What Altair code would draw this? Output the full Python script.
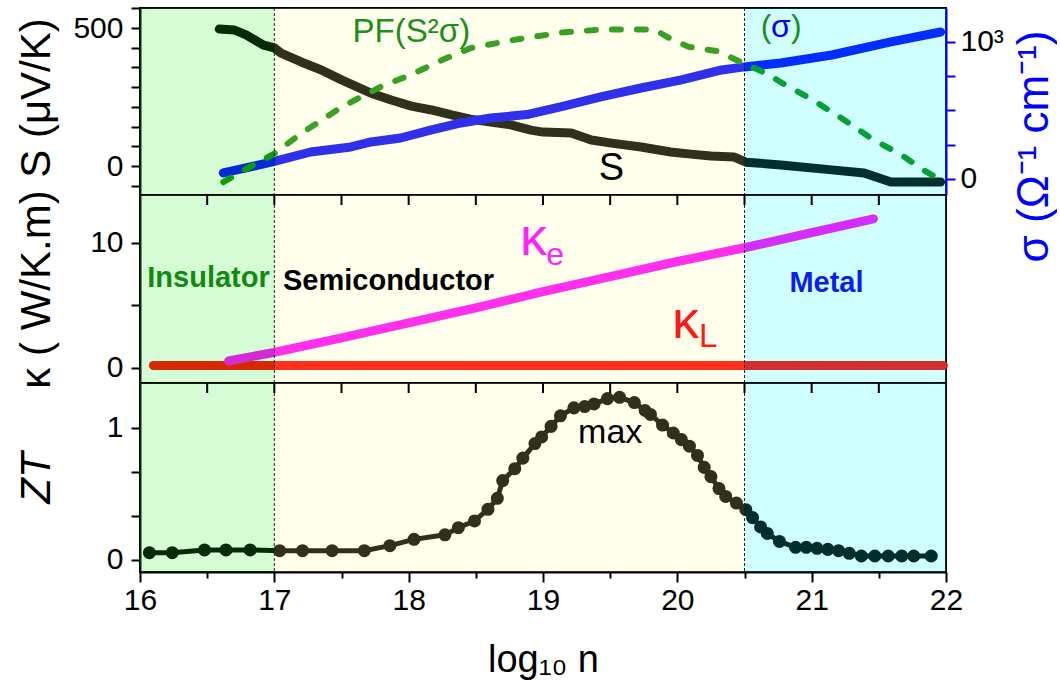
import altair as alt
import pandas as pd

FONT = "Liberation Sans"

# ---- Seebeck coefficient S (uV/K) vs log10 n ----
S_N = [16.59, 16.70, 16.79, 16.92, 17.0, 17.05, 17.2, 17.35, 17.5, 17.72, 17.87, 18.02,
       18.17, 18.32, 18.46, 18.61, 18.76, 18.91, 19.0, 19.21, 19.36, 19.51, 19.73, 19.95,
       20.1, 20.25, 20.42, 20.51, 20.77, 21.15, 21.39, 21.59, 21.96]
S_VAL = [496, 493, 475, 438, 428, 409, 377, 348, 312, 264, 239, 217,
         203, 185, 170, 159, 149, 130, 123, 120, 94, 83, 69, 51,
         43, 36, 33, 14, 4, -14, -25, -58, -58]

# ---- electrical conductivity sigma (1/(Ohm cm)) ----
SIG_N = [16.62, 17.0, 17.27, 17.57, 17.72, 17.94, 18.17, 18.39, 18.61, 18.88,
         19.13, 19.43, 19.73, 20.03, 20.33, 20.5, 20.77, 21.15, 21.59, 21.96]
SIG_VAL = [44, 128, 197, 234, 270, 299, 358, 409, 445, 470,
           526, 599, 664, 723, 796, 818, 847, 905, 1000, 1073]

# ---- power factor S^2 sigma (relative units) ----
PF_N = [16.62, 16.83, 17.0, 17.2, 17.5, 17.79, 18.02, 18.24, 18.46, 18.76, 18.91, 19.13,
        19.43, 19.73, 19.83, 19.93, 20.08, 20.3, 20.5, 20.68, 20.77, 21.0, 21.22, 21.44,
        21.67, 21.84, 21.96]
PF_VAL = [0.006, 0.11, 0.19, 0.32, 0.49, 0.62, 0.70, 0.79, 0.87, 0.92, 0.94, 0.97,
          0.99, 0.99, 0.99, 0.94, 0.88, 0.85, 0.77, 0.70, 0.65, 0.54, 0.42, 0.29,
          0.18, 0.08, 0.02]

# ---- thermal conductivity: electronic (ke) and lattice (kL), W/K.m ----
KE_N = [16.66, 17.0, 17.5, 18.0, 18.5, 19.0, 19.5, 20.0, 20.5, 21.0, 21.46]
KE_VAL = [0.56, 1.25, 2.4, 3.6, 4.8, 6.1, 7.3, 8.5, 9.6, 10.8, 11.9]
KL_N = [16.1, 21.98]
KL_VAL = [0.2, 0.2]

# ---- figure of merit ZT ----
ZT_N = [16.07, 16.24, 16.48, 16.64, 16.82, 17.04, 17.21, 17.43, 17.67, 17.86, 18.04, 18.27,
        18.37, 18.49, 18.59, 18.66, 18.70, 18.79, 18.85, 18.94, 18.99, 19.06, 19.13, 19.23,
        19.31, 19.38, 19.48, 19.57, 19.68, 19.76, 19.80, 19.89, 19.97, 20.03, 20.09, 20.15,
        20.20, 20.25, 20.31, 20.36, 20.44, 20.51, 20.56, 20.62, 20.67, 20.76, 20.88, 20.96,
        21.04, 21.12, 21.20, 21.28, 21.37, 21.47, 21.57, 21.67, 21.76, 21.89]
ZT_VAL = [0.055, 0.055, 0.076, 0.076, 0.076, 0.07, 0.07, 0.07, 0.07, 0.108, 0.156, 0.19,
          0.244, 0.295, 0.383, 0.466, 0.60, 0.69, 0.77, 0.88, 0.93, 1.01, 1.09, 1.15,
          1.16, 1.18, 1.22, 1.23, 1.19, 1.13, 1.10, 1.02, 0.96, 0.91, 0.86, 0.79,
          0.70, 0.63, 0.54, 0.48, 0.43, 0.38, 0.32, 0.25, 0.20, 0.14, 0.096, 0.096,
          0.088, 0.08, 0.07, 0.05, 0.03, 0.03, 0.03, 0.03, 0.03, 0.03]

# ---- regimes ----
REGION_NAME = ["Insulator", "Semiconductor", "Metal"]
REGION_START = [16.0, 17.0, 20.5]
REGION_END = [17.0, 20.5, 22.0]
REGION_TINT = ["#14f014", "#ffff96", "#00ffff"]
REGION_ALPHA = [0.18, 0.19, 0.18]
BOUNDARIES = [17.0, 20.5]

X_TICKS = [16 + 0.5 * i for i in range(13)]
S_TICKS = [500 - 500 / 7 * k for k in range(-1, 9)]
SIG_TICKS = [0, 250, 500, 750, 1000]
K_TICKS = [0, 2.5, 5, 7.5, 10, 12.5]
ZT_TICKS = [k / 6 for k in range(8)]
X_TITLE = "log\u2081\u2080 n"

W = 806
H_TOP, H_MID, H_BOT = 187, 188, 189
XSCALE = alt.Scale(domain=[16, 22], nice=False, zero=False)

regions = pd.DataFrame({"name": REGION_NAME, "start": REGION_START, "end": REGION_END,
                        "tint": REGION_TINT, "alpha": REGION_ALPHA})
bounds = pd.DataFrame({"n": BOUNDARIES})
edge_ticks = pd.DataFrame({"tick_n": X_TICKS[1:-1]})


def x_enc(field, show, axis=None):
    """x channel on log10 n; show=False switches the x axis off for the panel."""
    title = X_TITLE if show else None
    if not show:
        return alt.X(f"{field}:Q", scale=XSCALE, axis=None, title=title)
    if axis is not None:
        return alt.X(f"{field}:Q", scale=XSCALE, axis=axis, title=title)
    return alt.X(f"{field}:Q", scale=XSCALE, title=title)


def shading(h, show, axis=None):
    return alt.Chart(regions).mark_rect().encode(
        x=x_enc("start", show, axis), x2="end",
        y=alt.value(0), y2=alt.value(h),
        color=alt.Color("tint:N", scale=None),
        opacity=alt.Opacity("alpha:Q", scale=None),
    )


def boundary_lines(h, show):
    return alt.Chart(bounds).mark_rule(color="#222222", strokeWidth=1, strokeDash=[3, 2]).encode(
        x=x_enc("n", show), y=alt.value(0), y2=alt.value(h))


def top_edge_ticks(show):
    # short ticks hanging from the upper frame of a panel
    return alt.Chart(edge_ticks).mark_tick(color="black", thickness=2, size=10, opacity=1).encode(
        x=x_enc("tick_n", show), y=alt.value(5))


def left_axis(ticks, label_expr, title_y, italic=False):
    return alt.Axis(orient="left", values=ticks, labelExpr=label_expr, grid=False,
                    tickSize=9, tickWidth=2, tickColor="black", domainWidth=2, domainColor="black",
                    labelFontSize=30, labelPadding=8, labelColor="black", labelOverlap=False,
                    titleFontSize=42, titleFontWeight="normal", titleColor="black",
                    titleAngle=270, titleX=-104, titleY=title_y, titleBaseline="middle",
                    titleAlign="center", titleFontStyle="italic" if italic else "normal")


def text_layer(df, yfield, ydomain, show, weight="normal", hide_y_axis=False):
    yscale = alt.Scale(domain=ydomain, nice=False, zero=False)
    if hide_y_axis:
        y = alt.Y(f"{yfield}:Q", scale=yscale, axis=None)
    else:
        y = alt.Y(f"{yfield}:Q", scale=yscale)
    return alt.Chart(df).mark_text(font=FONT, baseline="alphabetic", align="center",
                                   fontWeight=weight).encode(
        x=x_enc("n", show),
        y=y,
        text="label:N",
        color=alt.Color("color:N", scale=None),
        size=alt.Size("size:Q", scale=None),
    )


# ================= top panel: S, sigma, PF =================
S_DOM = [-105, 572.5]
SIG_DOM = [-117, 1248]
PF_DOM = [-0.077, 1.129]

s_df = pd.DataFrame({"n": S_N, "S": S_VAL})
sig_df = pd.DataFrame({"n": SIG_N, "sigma": SIG_VAL})
pf_df = pd.DataFrame({"n": PF_N, "pf": PF_VAL})

s_line = alt.Chart(s_df).mark_line(color="black", strokeWidth=9, strokeCap="round",
                                   strokeJoin="round").encode(
    x=x_enc("n", False),
    y=alt.Y("S:Q", scale=alt.Scale(domain=S_DOM, nice=False, zero=False),
            title="S (\u03bcV/K)",
            axis=left_axis(S_TICKS, "datum.value === 0 ? '0' : datum.value === 500 ? '500' : ''",
                           H_TOP / 2 - 4)),
)

sig_line = alt.Chart(sig_df).mark_line(color="#0000ff", strokeWidth=9, strokeCap="round",
                                       strokeJoin="round").encode(
    x=x_enc("n", False),
    y=alt.Y("sigma:Q", scale=alt.Scale(domain=SIG_DOM, nice=False, zero=False),
            title="\u03c3 (\u03a9\u207b\u00b9 cm\u207b\u00b9)",
            axis=alt.Axis(orient="right", values=SIG_TICKS, grid=False,
                          labelExpr="datum.value === 1000 ? '10\u00b3' : datum.value === 0 ? '0' : ''",
                          tickSize=9, tickWidth=2, tickColor="#0000ff", domainColor="#0000ff",
                          domainWidth=2, labelFontSize=30, labelPadding=5, labelColor="black",
                          labelOverlap=False, titleFontSize=44, titleFontWeight="normal",
                          titleColor="#0000ff", titleAngle=270, titleX=88, titleY=138,
                          titleBaseline="middle", titleAlign="center")),
)

pf_line = alt.Chart(pf_df).mark_line(color="#0a8c0a", strokeWidth=6, strokeCap="round",
                                     strokeDash=[9, 16]).encode(
    x=x_enc("n", False),
    y=alt.Y("pf:Q", scale=alt.Scale(domain=PF_DOM, nice=False, zero=False), axis=None),
)

top_text = pd.DataFrame({
    "n": [18.02, 19.51, 20.66, 20.77, 20.885],
    "S": [449, -51, 467, 467, 467],
    "label": ["PF(S\u00b2\u03c3)", "S", "(", "\u03c3", ")"],
    "color": ["#1e8c1e", "black", "#1e8c1e", "#0000ff", "#1e8c1e"],
    "size": [33, 38, 32, 32, 32],
})

top = alt.layer(
    s_line, sig_line, pf_line, shading(H_TOP, False), boundary_lines(H_TOP, False),
    text_layer(top_text, "S", S_DOM, False, hide_y_axis=True),
).resolve_scale(y="independent").properties(width=W, height=H_TOP)

# ================= middle panel: thermal conductivity =================
K_DOM = [-1.2, 13.81]
ke_df = pd.DataFrame({"n": KE_N, "k": KE_VAL})
kl_df = pd.DataFrame({"n": KL_N, "k": KL_VAL})

kl_line = alt.Chart(kl_df).mark_line(color="#ff0000", strokeWidth=9, strokeCap="round").encode(
    x=x_enc("n", False),
    y=alt.Y("k:Q", scale=alt.Scale(domain=K_DOM, nice=False, zero=False),
            title="\u03ba ( W/K.m)",
            axis=left_axis(K_TICKS, "datum.value === 0 ? '0' : datum.value === 10 ? '10' : ''",
                           H_MID / 2)),
)
ke_line = alt.Chart(ke_df).mark_line(color="#ff00ff", strokeWidth=9, strokeCap="round").encode(
    x=x_enc("n", False),
    y=alt.Y("k:Q", scale=alt.Scale(domain=K_DOM, nice=False, zero=False)),
)

mid_sym = pd.DataFrame({
    "n": [18.93, 19.09, 20.06, 20.23],
    "k": [9.02, 8.22, 2.39, 1.68],
    "label": ["\u03ba", "e", "\u03ba", "L"],
    "color": ["#ff22ff", "#ff22ff", "#ff1a1a", "#ff1a1a"],
    "size": [54, 32, 54, 33],
})
mid_regime = pd.DataFrame({
    "n": [16.51, 17.85, 21.11],
    "k": [6.46, 6.22, 6.07],
    "label": REGION_NAME,
    "color": ["#108a10", "black", "#0a1ef0"],
    "size": [29, 29, 29],
})

mid = alt.layer(
    kl_line, ke_line, shading(H_MID, False), boundary_lines(H_MID, False), top_edge_ticks(False),
    text_layer(mid_sym, "k", K_DOM, False),
    text_layer(mid_regime, "k", K_DOM, False, weight="bold"),
).properties(width=W, height=H_MID)

# ================= bottom panel: ZT =================
ZT_DOM = [-0.091, 1.338]
zt_df = pd.DataFrame({"n": ZT_N, "zt": ZT_VAL})
zt_scale = alt.Scale(domain=ZT_DOM, nice=False, zero=False)

bottom_axis = alt.Axis(
    orient="bottom", values=X_TICKS, grid=False, labelFlush=False, labelOverlap=False,
    labelExpr="datum.value % 1 === 0 ? format(datum.value, 'd') : ''",
    tickSize={"condition": {"test": "datum.value % 1 === 0", "value": 10}, "value": 6},
    tickWidth=2, tickColor="black", domainWidth=2, domainColor="black",
    labelFontSize=30, labelPadding=3, labelColor="black",
    titleFontSize=38, titleFontWeight="normal", titleColor="black", titlePadding=26,
)

zt_line = alt.Chart(zt_df).mark_line(color="black", strokeWidth=5).encode(
    x=x_enc("n", True),
    y=alt.Y("zt:Q", scale=zt_scale, title="ZT",
            axis=left_axis(ZT_TICKS, "datum.value === 0 ? '0' : datum.value === 1 ? '1' : ''",
                           H_BOT / 2, italic=True)),
)
zt_pts = alt.Chart(zt_df).mark_circle(color="black", size=170, opacity=1).encode(
    x=x_enc("n", True),
    y=alt.Y("zt:Q", scale=zt_scale),
)
bot_text = pd.DataFrame({"n": [19.5], "zt": [0.884], "label": ["max"],
                         "color": ["black"], "size": [34]})

bot = alt.layer(
    zt_line, zt_pts, shading(H_BOT, True, bottom_axis), boundary_lines(H_BOT, True),
    top_edge_ticks(True), text_layer(bot_text, "zt", ZT_DOM, True),
).properties(width=W, height=H_BOT)

chart = alt.vconcat(top, mid, bot, spacing=0, bounds="flush").properties(
    padding={"left": 14, "top": -8, "right": 0, "bottom": 5},
).configure_view(stroke="black", strokeWidth=2).configure_axis(
    labelFont=FONT, titleFont=FONT
).configure_text(font=FONT)

chart.save("out.html", embed_options={"renderer": "svg", "actions": False})
